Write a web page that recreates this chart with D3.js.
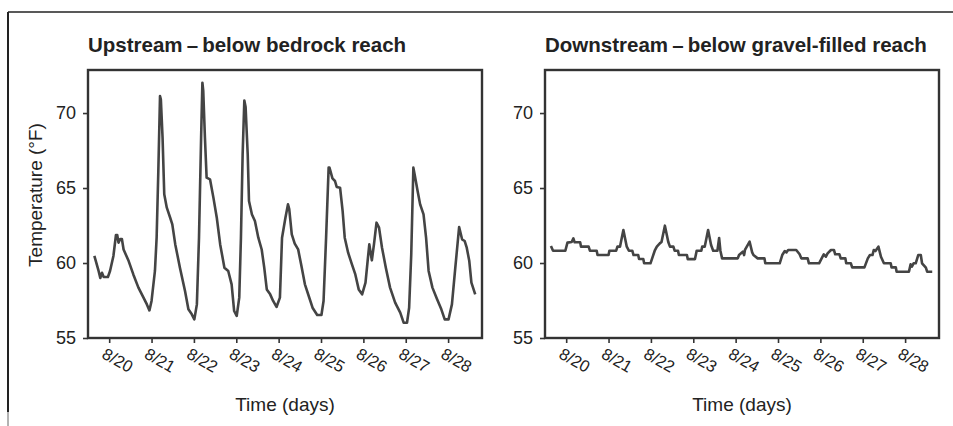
<!DOCTYPE html>
<html lang="en">
<head>
<meta charset="UTF-8">
<title>Stream temperature</title>
<script src="https://cdn.jsdelivr.net/npm/d3@7"></script>
<style>
  html, body { margin: 0; padding: 0; background: #fff; }
  svg { display: block; }
  text { font-family: "Liberation Sans", Arial, Helvetica, sans-serif; fill: #222; }
</style>
</head>
<body>
<svg id="chart" width="953" height="426"></svg>
<script>
// --- data (day of August, temperature in °F) ---
var titles = ["Upstream\u2009\u2013\u2009below bedrock reach", "Downstream\u2009\u2013\u2009below gravel-filled reach"];
var tickDays = [20, 21, 22, 23, 24, 25, 26, 27, 28];
var tickLabels = ["8/20", "8/21", "8/22", "8/23", "8/24", "8/25", "8/26", "8/27", "8/28"];
var yTicks = [55, 60, 65, 70];

var upDays = [19.65, 19.75, 19.79, 19.83, 19.87, 19.97, 20.02, 20.10, 20.16, 20.19, 20.22, 20.26, 20.30, 20.34, 20.46, 20.57, 20.69, 20.81, 20.89, 20.95,
  21.00, 21.08, 21.12, 21.16, 21.20, 21.22, 21.26, 21.30, 21.36, 21.44, 21.49, 21.56, 21.67, 21.79, 21.87, 21.95,
  22.01, 22.07, 22.12, 22.17, 22.20, 22.22, 22.26, 22.30, 22.38, 22.46, 22.54, 22.62, 22.72, 22.81, 22.89, 22.95,
  23.01, 23.07, 23.11, 23.15, 23.19, 23.22, 23.27, 23.30, 23.37, 23.44, 23.52, 23.60, 23.66, 23.72, 23.80, 23.87, 23.95,
  24.03, 24.08, 24.16, 24.22, 24.25, 24.31, 24.38, 24.46, 24.53, 24.62, 24.71, 24.80, 24.91,
  25.01, 25.06, 25.12, 25.18, 25.20, 25.27, 25.33, 25.37, 25.45, 25.51, 25.56, 25.64, 25.73, 25.81, 25.89, 25.97,
  26.05, 26.10, 26.14, 26.20, 26.25, 26.31, 26.37, 26.44, 26.53, 26.63, 26.75, 26.87, 26.95,
  27.03, 27.08, 27.13, 27.18, 27.21, 27.28, 27.34, 27.42, 27.48, 27.54, 27.63, 27.74, 27.84, 27.92,
  28.01, 28.09, 28.17, 28.26, 28.33, 28.39, 28.44, 28.50, 28.55, 28.64];
var upTemps = [60.47, 59.47, 59.0, 59.35, 59.07, 59.07, 59.47, 60.47, 61.87, 61.87, 61.36, 61.6, 61.6, 60.9, 60.13, 59.24, 58.36, 57.69, 57.24, 56.84,
  57.47, 59.47, 61.69, 66.13, 71.13, 70.9, 68.36, 64.58, 63.69, 63.02, 62.58, 61.24, 59.69, 58.13, 56.91, 56.58,
  56.24, 57.24, 61.69, 68.36, 72.02, 71.5, 68.36, 65.69, 65.58, 64.36, 63.02, 61.24, 59.69, 59.47, 58.58, 56.8,
  56.47, 57.69, 61.69, 67.24, 70.84, 70.4, 67.24, 64.13, 63.24, 62.8, 61.69, 60.9, 59.69, 58.24, 57.91, 57.47, 57.07,
  57.69, 61.69, 63.02, 63.91, 63.6, 61.91, 61.29, 60.91, 59.91, 58.58, 57.8, 57.02, 56.53,
  56.53, 57.47, 61.69, 66.36, 66.36, 65.64, 65.47, 65.07, 65.02, 63.47, 61.69, 60.69, 59.91, 59.24, 58.24, 57.91,
  58.69, 60.13, 61.24, 60.18, 61.24, 62.69, 62.36, 61.02, 59.69, 58.36, 57.36, 56.69, 56.02,
  56.02, 57.02, 60.58, 66.36, 65.9, 64.8, 63.91, 63.24, 61.69, 59.47, 58.36, 57.58, 56.91, 56.24,
  56.24, 57.24, 59.69, 62.4, 61.58, 61.47, 61.02, 60.13, 58.69, 57.91];

var downDays = [19.64, 19.69, 19.98, 20.03, 20.13, 20.17, 20.20, 20.33, 20.35, 20.53, 20.56, 20.72, 20.74,
  21.00, 21.02, 21.18, 21.21, 21.27, 21.35, 21.43, 21.48, 21.56, 21.59, 21.70, 21.72, 21.82, 21.84, 21.99,
  22.09, 22.14, 22.21, 22.25, 22.33, 22.41, 22.45, 22.53, 22.56, 22.64, 22.66, 22.85, 22.87,
  23.04, 23.08, 23.19, 23.21, 23.27, 23.35, 23.42, 23.47, 23.57, 23.61, 23.64, 23.68,
  24.05, 24.08, 24.17, 24.20, 24.22, 24.33, 24.39, 24.42, 24.52, 24.68, 24.70,
  25.04, 25.10, 25.16, 25.20, 25.24, 25.43, 25.51, 25.55, 25.70, 25.73, 25.97,
  26.03, 26.08, 26.13, 26.17, 26.25, 26.32, 26.35, 26.45, 26.48, 26.59, 26.61, 26.72, 26.75,
  27.04, 27.12, 27.17, 27.23, 27.26, 27.30, 27.37, 27.43, 27.50, 27.66, 27.68, 27.78, 27.80,
  28.09, 28.13, 28.16, 28.20, 28.25, 28.31, 28.37, 28.40, 28.49, 28.52, 28.64];
var downTemps = [61.13, 60.82, 60.82, 61.36, 61.40, 61.64, 61.38, 61.38, 61.09, 61.09, 60.82, 60.82, 60.53,
  60.53, 60.82, 60.82, 61.09, 61.09, 62.20, 61.09, 60.82, 60.82, 60.53, 60.53, 60.27, 60.27, 59.98, 59.98,
  60.82, 61.09, 61.31, 61.40, 62.49, 61.40, 61.09, 61.09, 60.82, 60.82, 60.53, 60.53, 60.26,
  60.26, 60.82, 60.82, 61.09, 61.09, 62.20, 61.20, 60.82, 60.82, 61.67, 60.82, 60.31,
  60.31, 60.53, 60.76, 60.53, 60.87, 61.42, 60.71, 60.53, 60.31, 60.31, 59.98,
  59.98, 60.53, 60.80, 60.71, 60.87, 60.87, 60.58, 60.31, 60.31, 59.98, 59.98,
  60.31, 60.58, 60.42, 60.64, 60.87, 60.87, 60.58, 60.58, 60.31, 60.31, 59.98, 59.98, 59.71,
  59.71, 60.31, 60.53, 60.53, 60.87, 60.80, 61.09, 60.42, 59.98, 59.98, 59.71, 59.71, 59.42,
  59.42, 59.91, 59.76, 59.98, 59.98, 60.53, 60.53, 59.98, 59.69, 59.42, 59.42];

// --- layout ---
var svg = d3.select("#chart");
var pw = 394, ph = 268;
var panels = [
  { left: 88, top: 70, days: upDays, temps: upTemps, title: titles[0], ylabel: true },
  { left: 545, top: 70, days: downDays, temps: downTemps, title: titles[1], ylabel: false }
];

// outer frame (top and left edges only)
svg.append("line").attr("x1", 8).attr("x2", 953).attr("y1", 12).attr("y2", 12)
  .attr("stroke", "#222").attr("stroke-width", 1.5);
svg.append("line").attr("x1", 8).attr("x2", 8).attr("y1", 12).attr("y2", 412)
  .attr("stroke", "#222").attr("stroke-width", 2);
svg.append("line").attr("x1", 8).attr("x2", 8).attr("y1", 412).attr("y2", 426)
  .attr("stroke", "#666").attr("stroke-width", 1);

panels.forEach(function(p) {
  var x = d3.scaleLinear().domain([19.5, 28.8]).range([0, pw]);
  var y = d3.scaleLinear().domain([55, 72.87]).range([ph, 0]);
  var g = svg.append("g").attr("transform", "translate(" + p.left + "," + p.top + ")");

  // title
  g.append("text").attr("x", 0).attr("y", -18)
    .style("font-size", "20.5px").style("font-weight", "bold")
    .text(p.title);

  // y axis
  var ya = g.append("g").call(d3.axisLeft(y).tickValues(yTicks).tickSize(5).tickSizeOuter(0).tickPadding(7));
  ya.select(".domain").remove();
  ya.selectAll("line").attr("stroke", "#333").attr("stroke-width", 1.6);
  ya.selectAll("text").style("font-size", "18px").attr("fill", "#222");

  // x axis
  var xa = g.append("g").attr("transform", "translate(0," + ph + ")")
    .call(d3.axisBottom(x).tickValues(tickDays).tickFormat(function(d, i) { return tickLabels[i]; })
      .tickSize(5).tickSizeOuter(0));
  xa.select(".domain").remove();
  xa.selectAll("line").attr("stroke", "#333").attr("stroke-width", 1.6);
  xa.selectAll("text")
    .style("font-size", "16.5px").attr("fill", "#222")
    .attr("text-anchor", "start")
    .attr("x", 0).attr("y", 0).attr("dy", "0.71em")
    .attr("transform", "translate(-3,9) rotate(30)");

  // frame
  g.append("rect").attr("x", 0).attr("y", 0).attr("width", pw).attr("height", ph)
    .attr("fill", "none").attr("stroke", "#333").attr("stroke-width", 2.4);

  // data line
  var line = d3.line()
    .x(function(d, i) { return x(p.days[i]); })
    .y(function(d) { return y(d); });
  g.append("path").datum(p.temps)
    .attr("d", line)
    .attr("fill", "none").attr("stroke", "#444").attr("stroke-width", 2.6)
    .attr("stroke-linejoin", "round");

  // x axis title
  g.append("text").attr("x", pw / 2).attr("y", ph + 73)
    .attr("text-anchor", "middle").style("font-size", "19px")
    .text("Time (days)");

  if (p.ylabel) {
    g.append("text")
      .attr("transform", "translate(" + (42 - p.left) + "," + (195 - p.top) + ") rotate(-90)")
      .attr("text-anchor", "middle").style("font-size", "19px")
      .text("Temperature (\u00B0F)");
  }
});
</script>
</body>
</html>
